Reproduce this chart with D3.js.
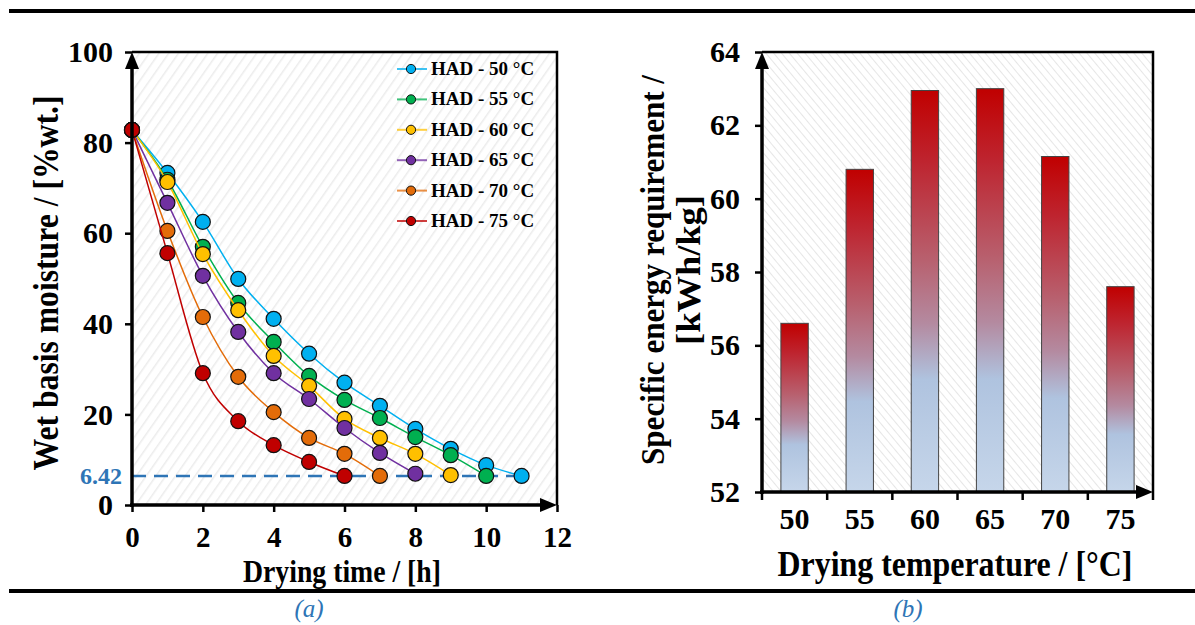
<!DOCTYPE html>
<html>
<head>
<meta charset="utf-8">
<script src="https://cdn.jsdelivr.net/npm/d3@7"></script>
<style>
  html, body { margin: 0; padding: 0; background: #fff; }
  svg { display: block; }
  text { font-family: "Liberation Serif", "Times New Roman", serif; }
</style>
</head>
<body>
<svg id="fig" width="1195" height="625"></svg>
<script>
// ---- (a) moisture content vs drying time ----
const dryingHours = [0, 1, 2, 3, 4, 5, 6, 7, 8, 9, 10, 11];
const seriesNames = ["HAD - 50 °C", "HAD - 55 °C", "HAD - 60 °C", "HAD - 65 °C", "HAD - 70 °C", "HAD - 75 °C"];
const seriesColors = ["#00B0F0", "#00B050", "#FFC000", "#7030A0", "#E36C09", "#C00000"];
const moisture50 = [82.8, 73.3, 62.5, 49.9, 41.1, 33.4, 27.0, 21.9, 16.8, 12.4, 8.8, 6.42];
const moisture55 = [82.8, 71.8, 57.0, 44.6, 36.0, 28.5, 23.2, 19.2, 15.0, 11.0, 6.42];
const moisture60 = [82.8, 71.3, 55.4, 43.0, 32.9, 26.3, 19.0, 14.8, 11.3, 6.6];
const moisture65 = [82.8, 66.7, 50.6, 38.2, 29.1, 23.4, 17.0, 11.5, 6.9];
const moisture70 = [82.8, 60.5, 41.5, 28.3, 20.5, 14.8, 11.3, 6.42];
const moisture75 = [82.8, 55.6, 29.1, 18.5, 13.2, 9.5, 6.42];
const finalMoisture = 6.42;
const timeTicks = [0, 2, 4, 6, 8, 10, 12];
const moistureTicks = [0, 20, 40, 60, 80, 100];

// ---- (b) specific energy requirement vs temperature ----
const temperatures = ["50", "55", "60", "65", "70", "75"];
const specificEnergy = [56.6, 60.8, 62.95, 63.0, 61.15, 57.6];
const energyTicks = [52, 54, 56, 58, 60, 62, 64];

const moistureSeries = [moisture50, moisture55, moisture60, moisture65, moisture70, moisture75];
const serif = "Liberation Serif, Times New Roman, serif";

const svg = d3.select("#fig");
const defs = svg.append("defs");

// diagonal hatch backgrounds
function hatch(id, angle, step, width, color) {
  const p = defs.append("pattern")
    .attr("id", id).attr("patternUnits", "userSpaceOnUse")
    .attr("width", step).attr("height", step)
    .attr("patternTransform", `rotate(${angle})`);
  p.append("rect").attr("width", step).attr("height", step).attr("fill", "#fff");
  p.append("line").attr("x1", 0).attr("y1", 0).attr("x2", 0).attr("y2", step)
    .attr("stroke", color).attr("stroke-width", width);
}
hatch("hatchA", 35, 8, 3, "#ececec");
hatch("hatchB", -40, 6, 2, "#e6e6e6");

// bar gradient: red top fading to pale blue
const grad = defs.append("linearGradient").attr("id", "barGrad")
  .attr("x1", 0).attr("y1", 0).attr("x2", 0).attr("y2", 1);
[[0, "#C00000"], [0.18, "#BE2530"], [0.42, "#B8606E"], [0.58, "#B48AA0"], [0.72, "#AFC3DF"], [1, "#C6D6EA"]]
  .forEach(([o, c]) => grad.append("stop").attr("offset", o).attr("stop-color", c));

// arrowheads
function arrowUp(g, x, y) {
  g.append("path").attr("d", `M${x},${y} L${x - 7},${y + 17} L${x + 7},${y + 17} Z`).attr("fill", "#000");
}
function arrowRight(g, x, y) {
  g.append("path").attr("d", `M${x},${y} L${x - 17},${y - 7} L${x - 17},${y + 7} Z`).attr("fill", "#000");
}
function styleTicks(sel, size) {
  sel.select(".domain").remove();
  sel.selectAll(".tick line").attr("stroke", "#000").attr("stroke-width", 2.5);
  sel.selectAll(".tick text").attr("font-size", size).attr("font-weight", "bold")
    .attr("font-family", serif).attr("fill", "#000");
}
// bold title with a fixed drawn length (slightly condensed face)
function title(g, text, size, len, transform) {
  return g.append("text").attr("transform", transform).attr("text-anchor", "middle")
    .attr("font-size", size).attr("font-weight", "bold")
    .attr("textLength", len).attr("lengthAdjust", "spacingAndGlyphs").text(text);
}

// figure rules
svg.append("rect").attr("x", 9).attr("y", 9).attr("width", 1186).attr("height", 4).attr("fill", "#000");
svg.append("rect").attr("x", 9).attr("y", 589).attr("width", 1186).attr("height", 4).attr("fill", "#000");

// ================= panel (a) =================
const xA = d3.scaleLinear().domain([0, 12]).range([132, 557]);
const yA = d3.scaleLinear().domain([0, 100]).range([505, 52]);
const gA = svg.append("g");

gA.append("rect").attr("x", xA(0)).attr("y", yA(100))
  .attr("width", xA(12) - xA(0)).attr("height", yA(0) - yA(100))
  .attr("fill", "url(#hatchA)");
gA.append("path").attr("d", `M${xA(0)},${yA(100)} H${xA(12)} V${yA(0)}`)
  .attr("fill", "none").attr("stroke", "#000").attr("stroke-width", 2.5);

// reference line at final moisture
gA.append("line").attr("x1", xA(0)).attr("x2", xA(11))
  .attr("y1", yA(finalMoisture)).attr("y2", yA(finalMoisture))
  .attr("stroke", "#2E75B6").attr("stroke-width", 2.5).attr("stroke-dasharray", "14,8");
gA.append("text").attr("x", 122).attr("y", yA(finalMoisture) + 8)
  .attr("text-anchor", "end").attr("font-size", 24).attr("font-weight", "bold")
  .attr("fill", "#2E75B6").text(finalMoisture.toFixed(2));

// series
const line = d3.line().x((d, i) => xA(dryingHours[i])).y(d => yA(d)).curve(d3.curveMonotoneX);
moistureSeries.forEach((vals, s) => {
  const g = gA.append("g");
  g.append("path").attr("d", line(vals)).attr("fill", "none")
    .attr("stroke", seriesColors[s]).attr("stroke-width", 1.5);
  g.selectAll("circle").data(vals).join("circle")
    .attr("cx", (d, i) => xA(dryingHours[i])).attr("cy", d => yA(d)).attr("r", 7.5)
    .attr("fill", seriesColors[s]).attr("stroke", "#111").attr("stroke-width", 1.2);
});

// axes
const axA = gA.append("g").attr("transform", `translate(0,${yA(0)})`)
  .call(d3.axisBottom(xA).tickValues(timeTicks).tickSize(7).tickPadding(14));
styleTicks(axA, 29);
const ayA = gA.append("g").attr("transform", `translate(${xA(0)},0)`)
  .call(d3.axisLeft(yA).tickValues(moistureTicks).tickSize(7).tickPadding(12));
styleTicks(ayA, 30);

gA.append("line").attr("x1", xA(0)).attr("x2", xA(0)).attr("y1", yA(0) + 2).attr("y2", yA(100) + 10)
  .attr("stroke", "#000").attr("stroke-width", 3.5);
gA.append("line").attr("x1", xA(0) - 2).attr("x2", xA(12) - 10).attr("y1", yA(0)).attr("y2", yA(0))
  .attr("stroke", "#000").attr("stroke-width", 3.5);
arrowUp(gA, xA(0), yA(100));
arrowRight(gA, xA(12), yA(0));

// legend
const leg = gA.append("g");
seriesNames.forEach((name, s) => {
  const y = 69 + s * 30.4;
  leg.append("line").attr("x1", 397).attr("x2", 427).attr("y1", y).attr("y2", y)
    .attr("stroke", seriesColors[s]).attr("stroke-width", 2).attr("opacity", 0.75);
  leg.append("circle").attr("cx", 411).attr("cy", y).attr("r", 4.6)
    .attr("fill", seriesColors[s]).attr("stroke", "#111").attr("stroke-width", 1);
  leg.append("text").attr("x", 431).attr("y", y + 6).attr("font-size", 19)
    .attr("font-weight", "bold").attr("fill", "#000").text(name);
});

// titles
title(gA, "Drying time / [h]", 32, 198, "translate(342,582)");
title(gA, "Wet basis moisture / [%wt.]", 35, 375, "translate(58,283) rotate(-90)");
gA.append("text").attr("x", 309).attr("y", 617).attr("text-anchor", "middle")
  .attr("font-size", 25).attr("font-style", "italic").attr("fill", "#2E75B6").text("(a)");

// ================= panel (b) =================
const xB = d3.scaleBand().domain(temperatures).range([762, 1153]).padding(0);
const yB = d3.scaleLinear().domain([52, 64]).range([492, 52]);
const gB = svg.append("g");

gB.append("rect").attr("x", 762).attr("y", yB(64))
  .attr("width", 1153 - 762).attr("height", yB(52) - yB(64))
  .attr("fill", "url(#hatchB)");
gB.append("path").attr("d", `M762,${yB(64)} H1153 V${yB(52)}`)
  .attr("fill", "none").attr("stroke", "#000").attr("stroke-width", 2.5);

// bars
const barW = xB.bandwidth() * 0.42;
gB.selectAll("rect.bar").data(specificEnergy).join("rect").attr("class", "bar")
  .attr("x", (d, i) => xB(temperatures[i]) + (xB.bandwidth() - barW) / 2)
  .attr("y", d => yB(d)).attr("width", barW).attr("height", d => yB(52) - yB(d))
  .attr("fill", "url(#barGrad)").attr("stroke", "#444").attr("stroke-width", 1);

// category axis: ticks between categories
const bandEdges = temperatures.map(t => xB(t)).concat([xB.range()[1]]);
gB.selectAll("line.xt").data(bandEdges).join("line").attr("class", "xt")
  .attr("x1", d => d).attr("x2", d => d).attr("y1", yB(52)).attr("y2", yB(52) + 8)
  .attr("stroke", "#000").attr("stroke-width", 2.5);
gB.selectAll("text.xl").data(temperatures).join("text").attr("class", "xl")
  .attr("x", d => xB(d) + xB.bandwidth() / 2).attr("y", 529).attr("text-anchor", "middle")
  .attr("font-size", 30).attr("font-weight", "bold").text(d => d);

const ayB = gB.append("g").attr("transform", "translate(762,0)")
  .call(d3.axisLeft(yB).tickValues(energyTicks).tickSize(7).tickPadding(15));
styleTicks(ayB, 30);

gB.append("line").attr("x1", 762).attr("x2", 762).attr("y1", yB(52) + 2).attr("y2", yB(64) + 10)
  .attr("stroke", "#000").attr("stroke-width", 3.5);
gB.append("line").attr("x1", 760).attr("x2", 1143).attr("y1", yB(52)).attr("y2", yB(52))
  .attr("stroke", "#000").attr("stroke-width", 3.5);
arrowUp(gB, 762, yB(64));
arrowRight(gB, 1153, yB(52));

title(gB, "Drying temperature / [°C]", 35, 355, "translate(955,576)");
title(gB, "Specific energy requirement /", 34, 390, "translate(664,270) rotate(-90)");
title(gB, "[kWh/kg]", 33, 150, "translate(700,270) rotate(-90)");
gB.append("text").attr("x", 908).attr("y", 617).attr("text-anchor", "middle")
  .attr("font-size", 25).attr("font-style", "italic").attr("fill", "#2E75B6").text("(b)");
</script>
</body>
</html>
